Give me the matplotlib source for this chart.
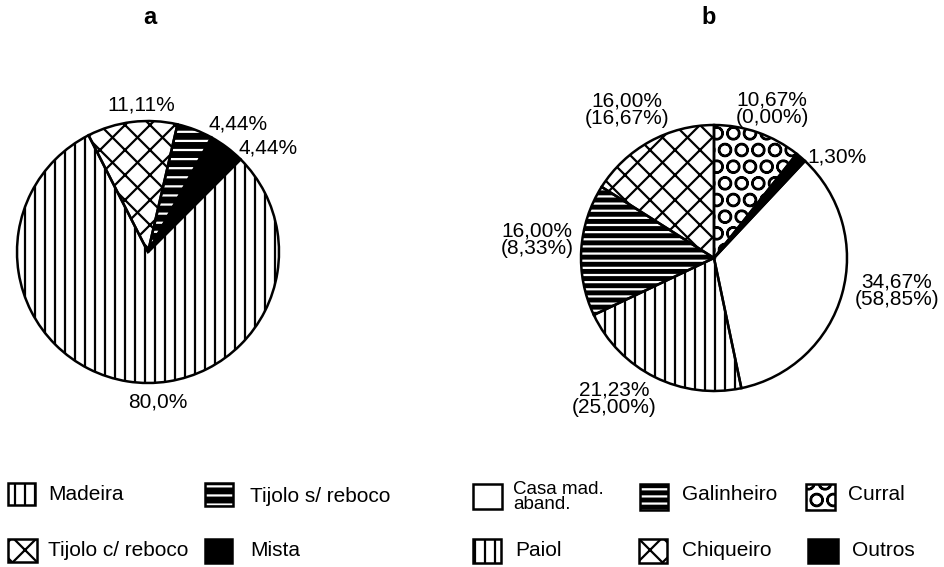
import matplotlib
matplotlib.use('Agg')
import matplotlib.pyplot as plt
import matplotlib.hatch as mhatch
from matplotlib.patches import Rectangle
from matplotlib.backend_bases import GraphicsContextBase
from matplotlib.path import Path

plt.rcParams['font.family'] = ['Liberation Sans', 'DejaVu Sans']
plt.rcParams['hatch.linewidth'] = 1.6

W, H = 945, 567

# ---------------- data ----------------
a_labels = ['Tijolo c/ reboco', 'Tijolo s/ reboco', 'Mista', 'Madeira']
a_values = [11.11, 4.44, 4.44, 80.0]
a_texts = ['11,11%', '4,44%', '4,44%', '80,0%']

b_labels = ['Curral', 'Outros', 'Casa mad.\naband.', 'Paiol', 'Galinheiro', 'Chiqueiro']
b_values = [10.67, 1.30, 34.67, 21.23, 16.00, 16.00]
b_values2 = [0.00, None, 58.85, 25.00, 8.33, 16.67]

legend_a = ['Madeira', 'Tijolo s/ reboco', 'Tijolo c/ reboco', 'Mista']
legend_b = ['Casa mad.\naband.', 'Galinheiro', 'Curral', 'Paiol', 'Chiqueiro', 'Outros']

# ---------------- styles ----------------
# label -> (face colour, hatch colour, hatch)
style = {
    'Madeira': ('white', 'black', '|'),
    'Tijolo c/ reboco': ('white', 'black', 'x'),
    'Tijolo s/ reboco': ('black', 'white', '-'),
    'Mista': ('black', 'black', ''),
    'Casa mad.\naband.': ('white', 'black', ''),
    'Paiol': ('white', 'black', '|'),
    'Galinheiro': ('black', 'white', '--'),
    'Curral': ('white', 'black', 'O'),
    'Chiqueiro': ('white', 'black', 'x'),
    'Outros': ('black', 'black', ''),
}
# hatch density (lines per inch per hatch character)
hatch_density = {'|': 10, '-': 11, '--': 7, 'x': 8, 'O': 6}
mhatch.LargeCircles.size = 0.37

def _get_hatch_path(self, density=6.0):
    h = self.get_hatch()
    if h is None:
        return None
    return Path.hatch(h, hatch_density.get(h, density))

GraphicsContextBase.get_hatch_path = _get_hatch_path

def fmt(v):
    return f"{v:.2f}".replace('.', ',') + '%'

b_texts = []
for v, v2 in zip(b_values, b_values2):
    t = fmt(v)
    if v2 is not None:
        t += '\n(' + fmt(v2) + ')'
    b_texts.append(t)

fig = plt.figure(figsize=(W / 100, H / 100), dpi=100)

def fx(px):
    return px / W

def fy(py):
    return 1 - py / H

def draw_pie(cx, cy, r, values, labels, start):
    pad = 6
    R = r + pad
    ax = fig.add_axes([fx(cx - R), fy(cy + R), 2 * R / W, 2 * R / H])
    faces = [style[l][0] for l in labels]
    wedges, _ = ax.pie(values, startangle=start, counterclock=False, radius=1,
                       colors=faces, wedgeprops=dict(linewidth=0))
    for w, l in zip(wedges, labels):
        w.set_edgecolor(style[l][1])
        w.set_hatch(style[l][2])
        w.set_linewidth(0)
    ax.pie(values, startangle=start, counterclock=False, radius=1,
           wedgeprops=dict(fill=False, edgecolor='black', linewidth=1.8))
    lim = R / r
    ax.set_xlim(-lim, lim)
    ax.set_ylim(-lim, lim)
    ax.set_aspect('equal')
    ax.axis('off')
    return ax

draw_pie(148, 252, 131, a_values, a_labels, 117)
draw_pie(714, 258, 133, b_values, b_labels, 90)

FS = 15
# labels pie a
a_pos = [(141, 105), (238, 124), (268, 148), (158, 402)]
for t, (px, py) in zip(a_texts, a_pos):
    fig.text(fx(px), fy(py), t, ha='center', va='center', fontsize=FS)

# labels pie b
b_pos = [(772, 109), (837, 157), (897, 291), (614, 399), (537, 240), (627, 110)]
for t, (px, py) in zip(b_texts, b_pos):
    fig.text(fx(px), fy(py), t, ha='center', va='center', fontsize=FS,
             linespacing=0.9, multialignment='center')

# titles
fig.text(fx(150), fy(18), 'a', ha='center', va='center', fontsize=17, fontweight='bold')
fig.text(fx(709), fy(17), 'b', ha='center', va='center', fontsize=17, fontweight='bold')

# legends
def legend_item(label, x, y, w, h, tx, ty, fs=15, ls=1.0):
    face, hc, hatch = style[label]
    rect = Rectangle((fx(x), fy(y + h)), w / W, h / H, transform=fig.transFigure,
                     facecolor=face, edgecolor=hc, hatch=hatch, linewidth=0)
    fig.add_artist(rect)
    rect2 = Rectangle((fx(x), fy(y + h)), w / W, h / H, transform=fig.transFigure,
                      fill=False, edgecolor='black', linewidth=1.8)
    fig.add_artist(rect2)
    fig.text(fx(tx), fy(ty), label, ha='left', va='center', fontsize=fs, linespacing=ls)

la_layout = [(8, 483, 27, 22, 48, 494), (205, 483, 28, 23, 250, 496),
             (8, 539, 29, 23, 48, 550), (205, 539, 27, 24, 250, 550)]
for lab, (x, y, w, h, tx, ty) in zip(legend_a, la_layout):
    legend_item(lab, x, y, w, h, tx, ty)

lb_layout = [(473, 484, 29, 25, 513, 497), (640, 484, 28, 26, 682, 494),
             (806, 484, 29, 26, 848, 494), (473, 539, 28, 24, 515, 550),
             (639, 539, 28, 24, 682, 550), (808, 539, 30, 24, 852, 550)]
for lab, (x, y, w, h, tx, ty) in zip(legend_b, lb_layout):
    if lab.startswith('Casa'):
        legend_item(lab, x, y, w, h, tx, ty, fs=13.5, ls=0.8)
    else:
        legend_item(lab, x, y, w, h, tx, ty)

fig.savefig('out.png', dpi=100)
